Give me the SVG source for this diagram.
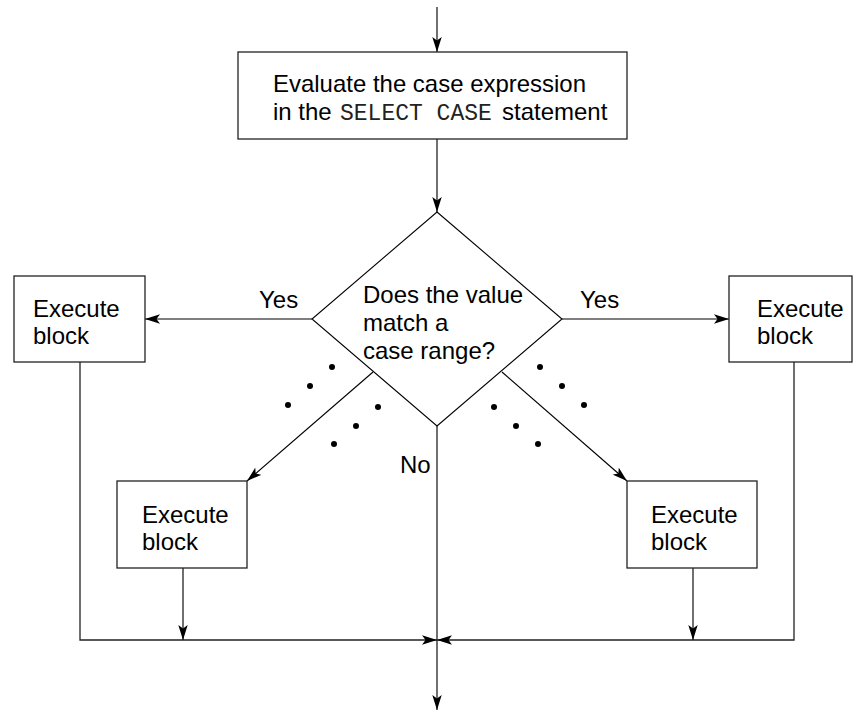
<svg xmlns="http://www.w3.org/2000/svg" width="853" height="713" viewBox="0 0 853 713">
<defs>
<style>
.box{fill:#fff;stroke:#222;stroke-width:1.3}
.dia{fill:#fff;stroke:#000;stroke-width:1.1}
.t{font-family:"Liberation Sans",Arial,sans-serif;font-size:24px;fill:#000}
.m{font-family:"Liberation Mono","Courier New",monospace;font-size:23px;fill:#222}
.c{fill:none;stroke:#222;stroke-width:1.3}
.d{fill:none;stroke:#000;stroke-width:1.1}
.dot{fill:#000}
</style>
<marker id="ah" viewBox="0 0 15 10" refX="15" refY="5" markerWidth="15" markerHeight="10" markerUnits="userSpaceOnUse" orient="auto">
<path d="M0,0.3 L15,5 L0,9.7 L3.5,5 Z" fill="#000"/>
</marker>
</defs>
<rect width="853" height="713" fill="#fff"/>
<g id="connectors">
<line class="c" x1="437" y1="7" x2="437" y2="52" marker-end="url(#ah)"/>
<line class="c" x1="437" y1="139" x2="437" y2="212" marker-end="url(#ah)"/>
<line class="d" x1="312" y1="319" x2="145" y2="319" marker-end="url(#ah)"/>
<line class="d" x1="562" y1="319" x2="729" y2="319" marker-end="url(#ah)"/>
<line class="d" x1="373" y1="372" x2="247" y2="481" marker-end="url(#ah)"/>
<line class="d" x1="502" y1="372" x2="627" y2="481" marker-end="url(#ah)"/>
<line class="c" x1="437" y1="426" x2="437" y2="710" marker-end="url(#ah)"/>
<polyline class="c" points="80,362 80,640 437,640" marker-end="url(#ah)"/>
<polyline class="c" points="794,362 794,640 437,640" marker-end="url(#ah)"/>
<line class="c" x1="183" y1="568" x2="183" y2="640" marker-end="url(#ah)"/>
<line class="c" x1="693" y1="568" x2="693" y2="640" marker-end="url(#ah)"/>
<text class="t" x="259" y="308">Yes</text>
<text class="t" x="580" y="308">Yes</text>
<text class="t" x="400" y="473">No</text>
</g>
<g id="eval">
<rect class="box" x="238" y="52" width="389" height="87"/>
<text class="t" x="273" y="92" textLength="313" lengthAdjust="spacingAndGlyphs">Evaluate the case expression</text>
<text class="t" x="273" y="120">in the <tspan class="m" x="340">SELECT CASE</tspan><tspan x="502">statement</tspan></text>
</g>
<g id="decision">
<polygon class="dia" points="437,212 562,319 437,426 312,319"/>
<text class="t" x="363" y="303">Does the value</text>
<text class="t" x="363" y="331">match a</text>
<text class="t" x="363" y="359">case range?</text>
</g>
<g id="exec-left">
<rect class="box" x="14" y="276" width="131" height="86"/>
<text class="t" x="33" y="317">Execute</text>
<text class="t" x="33" y="344">block</text>
</g>
<g id="exec-right">
<rect class="box" x="729" y="276" width="123" height="86"/>
<text class="t" x="757" y="317">Execute</text>
<text class="t" x="757" y="344">block</text>
</g>
<g id="exec-lower-left">
<rect class="box" x="117" y="481" width="130" height="87"/>
<text class="t" x="142" y="523">Execute</text>
<text class="t" x="142" y="550">block</text>
</g>
<g id="exec-lower-right">
<rect class="box" x="627" y="481" width="130" height="87"/>
<text class="t" x="651" y="523">Execute</text>
<text class="t" x="651" y="550">block</text>
</g>
<g id="ellipses">
<circle class="dot" cx="332" cy="367" r="3"/>
<circle class="dot" cx="310" cy="386" r="3"/>
<circle class="dot" cx="288" cy="405" r="3"/>
<circle class="dot" cx="378" cy="407" r="3"/>
<circle class="dot" cx="356" cy="426" r="3"/>
<circle class="dot" cx="334" cy="444" r="3"/>
<circle class="dot" cx="540" cy="367" r="3"/>
<circle class="dot" cx="562" cy="386" r="3"/>
<circle class="dot" cx="584" cy="405" r="3"/>
<circle class="dot" cx="494" cy="407" r="3"/>
<circle class="dot" cx="516" cy="426" r="3"/>
<circle class="dot" cx="538" cy="444" r="3"/>
</g>
</svg>
